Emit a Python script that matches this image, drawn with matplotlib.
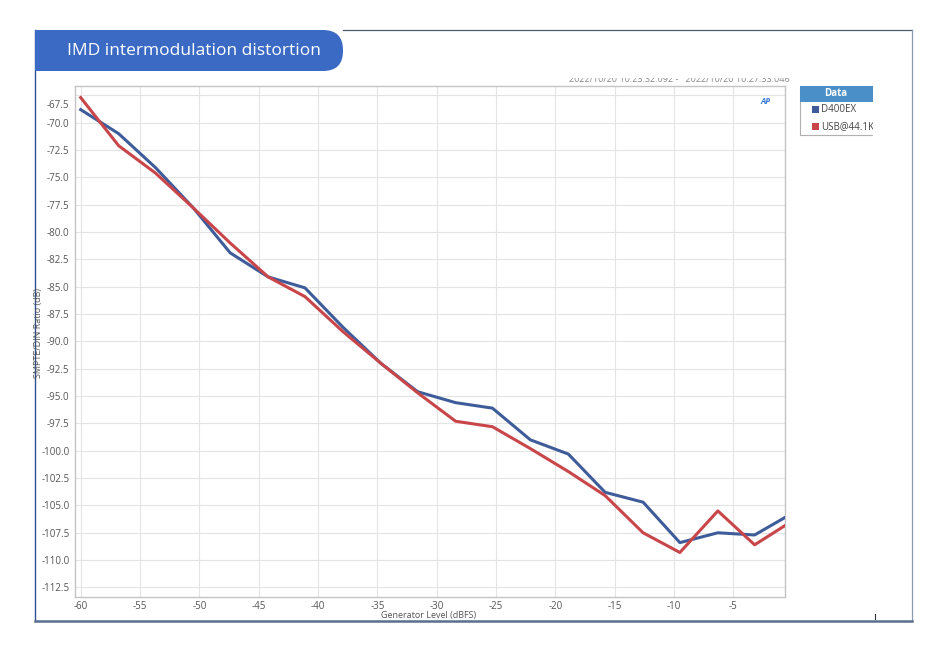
import numpy as np
import matplotlib
matplotlib.use("Agg")
import matplotlib.pyplot as plt
from matplotlib.patches import Rectangle, FancyBboxPatch
import matplotlib.transforms as mtransforms

plt.rcParams['font.family'] = ['Open Sans', 'DejaVu Sans']
plt.rcParams['axes.unicode_minus'] = False

# generator level steps (dBFS)
level = [-60.0, -56.8, -53.7, -50.5, -47.4, -44.2, -41.1, -37.9, -34.7, -31.6,
         -28.4, -25.3, -22.1, -18.9, -15.8, -12.6, -9.5, -6.3, -3.2, 0.0]
# SMPTE/DIN ratio (dB)
d400ex = [-68.8, -71.0, -74.1, -77.8, -81.9, -84.1, -85.1, -88.7, -92.0, -94.6,
          -95.6, -96.1, -99.0, -100.3, -103.8, -104.7, -108.4, -107.5, -107.7, -105.7]
usb441 = [-67.7, -72.1, -74.6, -77.8, -81.0, -84.1, -85.9, -89.1, -92.0, -94.7,
          -97.3, -97.8, -99.8, -101.9, -104.1, -107.5, -109.3, -105.5, -108.6, -106.4]

xticks = [-60, -55, -50, -45, -40, -35, -30, -25, -20, -15, -10, -5]
yticks = [-67.5, -70.0, -72.5, -75.0, -77.5, -80.0, -82.5, -85.0, -87.5, -90.0,
          -92.5, -95.0, -97.5, -100.0, -102.5, -105.0, -107.5, -110.0, -112.5]

BLUE = '#3f5c9a'
RED = '#c8464a'

W, H = 947, 650
fig = plt.figure(figsize=(W / 100, H / 100), dpi=100)
fig.patch.set_facecolor('white')

# overlay in pixel coordinates for the frame, banner and legend
ov = fig.add_axes([0, 0, 1, 1])
ov.set_xlim(0, W)
ov.set_ylim(H, 0)
ov.axis('off')

# frame
ov.plot([343, 912], [30, 30], color='#4d5d70', lw=0.9)
ov.plot([912, 912], [30, 620], color='#8a9ab0', lw=0.9)
ov.plot([35, 35], [30, 621], color='#2f4f8f', lw=1.0)
ov.plot([35, 912], [620.5, 620.5], color='#5b6f90', lw=1.8)
ov.plot([875, 875], [614, 619], color='#333333', lw=0.8)

# title banner
ov.add_patch(Rectangle((35, 30), 290, 41, facecolor='#3a6ac4', edgecolor='none', zorder=2))
ov.add_patch(FancyBboxPatch((300, 30), 43, 41, boxstyle='round,pad=0,rounding_size=20',
                            facecolor='#3a6ac4', edgecolor='none', zorder=2))
ov.text(194, 51, 'IMD intermodulation distortion', color='white', fontsize=12.5,
        ha='center', va='center', zorder=3)

# timestamp, top partially cut
ov.text(679, 79.5, '2022/10/20 10:23:32.092 -   2022/10/20 10:27:33.046', color='#8a8a8a',
        fontsize=6.5, ha='center', va='center', zorder=3)
ov.add_patch(Rectangle((560, 70), 240, 7.5, facecolor='white', edgecolor='none', zorder=4))

# legend box (cut at its right side, as in the original)
ov.add_patch(Rectangle((800, 86), 80, 49, facecolor='white', edgecolor='#b0b0b0', lw=0.8, zorder=2))
ov.add_patch(Rectangle((800, 86), 80, 16, facecolor='#4a8fc8', edgecolor='none', zorder=3))
ov.text(836, 94, 'Data', color='white', fontsize=7, fontweight='bold', ha='center', va='center', zorder=5)
ov.add_patch(Rectangle((812, 106), 7, 7, facecolor=BLUE, edgecolor='none', zorder=5))
ov.text(821, 110, 'D400EX', color='#444444', fontsize=7, ha='left', va='center', zorder=5)
ov.add_patch(Rectangle((812, 123), 7, 7, facecolor=RED, edgecolor='none', zorder=5))
ov.text(821, 127, 'USB@44.1K', color='#444444', fontsize=7, ha='left', va='center', zorder=5)
ov.add_patch(Rectangle((872.5, 80), 30, 60, facecolor='white', edgecolor='none', zorder=6))

# main chart
ax = fig.add_axes([75 / W, 1 - 597.3 / H, 710 / W, 511.3 / H])
ax.plot(level, d400ex, color=BLUE, lw=2.2, solid_joinstyle='round', zorder=3)
ax.plot(level, usb441, color=RED, lw=2.2, solid_joinstyle='round', zorder=3)

ax.set_xlim(-60.48, -0.64)
ax.set_ylim(-113.4, -66.64)
ax.set_xticks(xticks)
ax.set_yticks(yticks)
ax.set_yticklabels(['%.1f' % v for v in yticks])
ax.grid(True, color='#e4e4e4', lw=0.8)
ax.set_axisbelow(True)
for s in ax.spines.values():
    s.set_color('#c4c4c4')
    s.set_linewidth(1.0)
ax.tick_params(length=0, labelsize=7, labelcolor='#555555')
ax.tick_params(axis='y', pad=4)
ax.tick_params(axis='x', pad=2.5)

# top y label sits a bit lower, as in the original
off = mtransforms.ScaledTranslation(0, -8.5 / 100, fig.dpi_scale_trans)
top_lbl = ax.get_yticklabels()[0]
top_lbl.set_transform(top_lbl.get_transform() + off)

# AP logo
ax.text(0.972, 0.978, 'AP', transform=ax.transAxes, color='#3a7bd5', fontsize=6,
        fontweight='bold', style='italic', ha='center', va='top')

fig.text(38 / W, 1 - 333 / H, 'SMPTE/DIN Ratio (dB)', rotation=90, fontsize=6.5,
         color='#555555', ha='center', va='center')
fig.text(429 / W, 1 - 615.5 / H, 'Generator Level (dBFS)', fontsize=6.5,
         color='#555555', ha='center', va='center')

fig.savefig('out.png', dpi=100, facecolor='white')
